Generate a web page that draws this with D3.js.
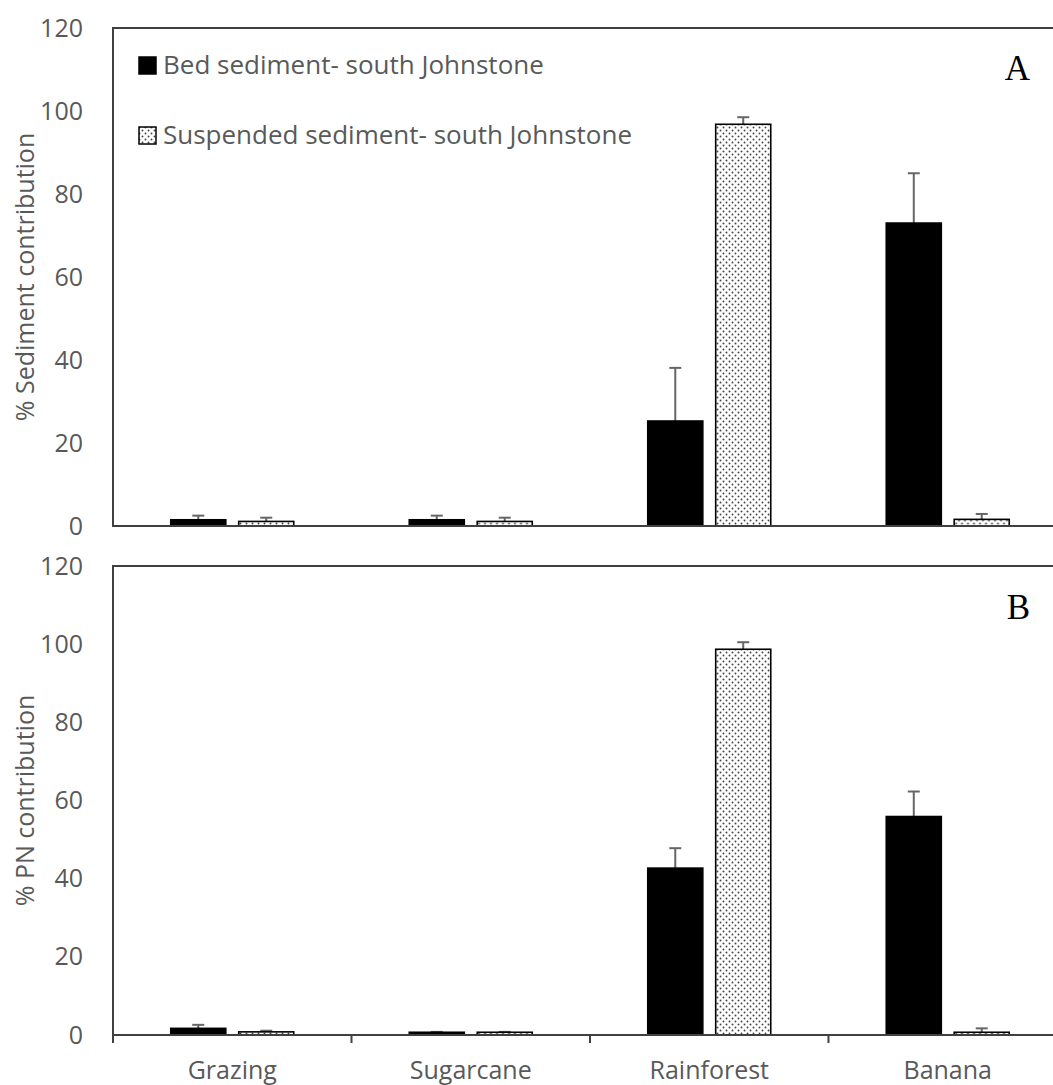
<!DOCTYPE html>
<html>
<head>
<meta charset="utf-8">
<script src="https://cdn.jsdelivr.net/npm/d3@7"></script>
<style>
  html, body { margin: 0; padding: 0; background: #fff; }
  svg { display: block; }
</style>
</head>
<body>
<svg id="chart" width="1053" height="1085"></svg>
<script>
// ---- data ----
const categories = ["Grazing", "Sugarcane", "Rainforest", "Banana"];
const seriesKeys = ["bed", "susp"];
const seriesNames = ["Bed sediment- south Johnstone", "Suspended sediment- south Johnstone"];
const yTicks = [0, 20, 40, 60, 80, 100, 120];

// Panel A: % Sediment contribution
const sedBed = [1.5, 1.5, 25.3, 73.0];
const sedBedErr = [1.0, 1.0, 12.8, 12.0];
const sedSusp = [1.1, 1.1, 96.8, 1.6];
const sedSuspErr = [0.9, 0.9, 1.7, 1.3];

// Panel B: % PN contribution
const pnBed = [1.7, 0.7, 42.7, 55.9];
const pnBedErr = [0.9, 0.1, 5.1, 6.4];
const pnSusp = [0.8, 0.7, 98.7, 0.7];
const pnSuspErr = [0.3, 0.1, 1.8, 1.0];

// ---- drawing ----
const svg = d3.select("#chart");
const textColor = "#595959";
const axisColor = "#404040";
const sans = "'Open Sans', sans-serif";

const defs = svg.append("defs");
const pat = defs.append("pattern")
  .attr("id", "dots").attr("patternUnits", "userSpaceOnUse")
  .attr("width", 6).attr("height", 6);
pat.append("rect").attr("width", 6).attr("height", 6).attr("fill", "#fff");
pat.append("circle").attr("cx", 1.5).attr("cy", 1.5).attr("r", 0.95).attr("fill", "#444");
pat.append("circle").attr("cx", 4.5).attr("cy", 4.5).attr("r", 0.95).attr("fill", "#444");

const x0 = d3.scaleBand().domain(categories).range([113, 1067]).padding(0);
const x1 = d3.scaleBand().domain(seriesKeys).range([0, x0.bandwidth()])
  .paddingInner(0.19).paddingOuter(0.85);

function panel(cfg) {
  const y = d3.scaleLinear().domain([0, 120]).range([cfg.bottom, cfg.top]);
  const g = svg.append("g");

  g.append("rect")
    .attr("x", 113).attr("y", cfg.top)
    .attr("width", 1067 - 113).attr("height", cfg.bottom - cfg.top)
    .attr("fill", "none").attr("stroke", axisColor).attr("stroke-width", 2);

  const yAxis = d3.axisLeft(y).tickValues(yTicks).tickSize(0).tickPadding(30);
  const ya = g.append("g").attr("transform", "translate(113,0)").call(yAxis);
  ya.select(".domain").remove();
  ya.selectAll("text")
    .attr("fill", textColor)
    .style("font-family", sans)
    .style("font-size", "25px");

  g.append("text")
    .attr("transform", `translate(34,${(cfg.top + cfg.bottom) / 2}) rotate(-90)`)
    .attr("text-anchor", "middle")
    .attr("fill", textColor)
    .style("font-family", sans)
    .style("font-size", "25px")
    .text(cfg.title);

  const rows = categories.map((c, i) => ({
    cat: c,
    vals: [
      { key: "bed", v: cfg.bed[i], e: cfg.bedErr[i] },
      { key: "susp", v: cfg.susp[i], e: cfg.suspErr[i] }
    ]
  }));

  const cg = g.selectAll(".cat").data(rows).enter().append("g")
    .attr("transform", d => `translate(${x0(d.cat)},0)`);

  const eb = cg.selectAll(".err").data(d => d.vals).enter().append("g");
  eb.append("line")
    .attr("x1", d => x1(d.key) + x1.bandwidth() / 2)
    .attr("x2", d => x1(d.key) + x1.bandwidth() / 2)
    .attr("y1", d => y(d.v)).attr("y2", d => y(d.v + d.e))
    .attr("stroke", "#666").attr("stroke-width", 2);
  eb.append("line")
    .attr("x1", d => x1(d.key) + x1.bandwidth() / 2 - 6)
    .attr("x2", d => x1(d.key) + x1.bandwidth() / 2 + 6)
    .attr("y1", d => y(d.v + d.e)).attr("y2", d => y(d.v + d.e))
    .attr("stroke", "#666").attr("stroke-width", 2);

  cg.selectAll(".bar").data(d => d.vals).enter().append("rect")
    .attr("x", d => x1(d.key))
    .attr("width", x1.bandwidth())
    .attr("y", d => y(d.v))
    .attr("height", d => y(0) - y(d.v))
    .attr("fill", d => d.key === "bed" ? "#000" : "url(#dots)")
    .attr("stroke", "#000").attr("stroke-width", 1.6);

  g.append("line").attr("x1", 113).attr("x2", 1067)
    .attr("y1", cfg.bottom).attr("y2", cfg.bottom)
    .attr("stroke", axisColor).attr("stroke-width", 2);

  g.append("text")
    .attr("x", 1030).attr("y", cfg.letterY)
    .attr("text-anchor", "end")
    .attr("fill", "#000")
    .style("font-family", "'Liberation Serif', 'DejaVu Serif', serif")
    .style("font-size", "35px")
    .text(cfg.letter);

  return { g, y };
}

panel({ top: 28, bottom: 526, title: "% Sediment contribution",
  bed: sedBed, bedErr: sedBedErr, susp: sedSusp, suspErr: sedSuspErr,
  letter: "A", letterY: 80 });

panel({ top: 566, bottom: 1035, title: "% PN contribution",
  bed: pnBed, bedErr: pnBedErr, susp: pnSusp, suspErr: pnSuspErr,
  letter: "B", letterY: 619 });

// x axis for panel B
const xb = svg.append("g");
xb.selectAll(".tk").data(categories).enter().append("line")
  .attr("x1", d => x0(d)).attr("x2", d => x0(d))
  .attr("y1", 1035).attr("y2", 1043)
  .attr("stroke", axisColor).attr("stroke-width", 2);
xb.selectAll(".lbl").data(categories).enter().append("text")
  .attr("x", d => x0(d) + x0.bandwidth() / 2)
  .attr("y", 1079)
  .attr("text-anchor", "middle")
  .attr("fill", textColor)
  .style("font-family", sans)
  .style("font-size", "25px")
  .text(d => d);

// legend in panel A
const leg = svg.append("g");
const legY = [57, 127];
leg.selectAll(".sw").data(seriesKeys).enter().append("rect")
  .attr("x", 139).attr("y", (d, i) => legY[i])
  .attr("width", 17).attr("height", 17)
  .attr("fill", d => d === "bed" ? "#000" : "url(#dots)")
  .attr("stroke", "#000").attr("stroke-width", 1.5);
leg.selectAll(".lt").data(seriesNames).enter().append("text")
  .attr("x", 163).attr("y", (d, i) => legY[i] + 17)
  .attr("fill", textColor)
  .style("font-family", sans)
  .style("font-size", "26px")
  .text(d => d);
</script>
</body>
</html>
